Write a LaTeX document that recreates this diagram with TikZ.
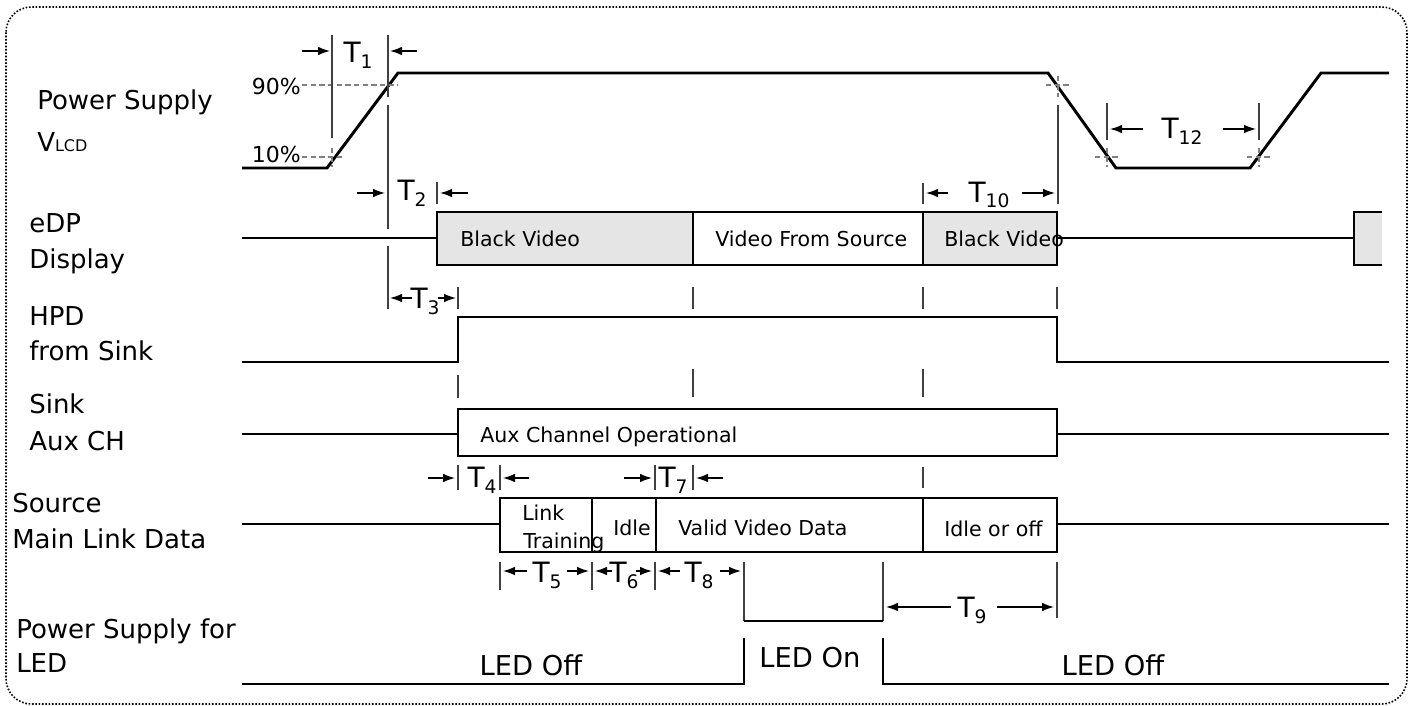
\documentclass[tikz,border=0pt]{standalone}
\usepackage{fontspec}
\setmainfont{DejaVu Sans}
\usepackage{tikz}
\usetikzlibrary{arrows.meta}
\newcommand{\Tdim}[1]{T\raisebox{-4.5pt}{\fontsize{14}{14}\selectfont #1}}
\tikzset{
  sigline/.style={
    draw=black,
    line width=2.2pt,
  },
  boxline/.style={
    draw=black,
    line width=2.2pt,
  },
  greybox/.style={
    boxline,
    fill=black!10,
  },
  edgeline/.style={
    draw=black!75,
    line width=0.8pt,
  },
  guideline/.style={
    draw=black!50,
    line width=0.8pt,
    dash pattern=on 4pt off 2.5pt,
  },
  dimarrow/.style={
    draw=black,
    line width=1.1pt,
    -{Latex[length=9pt,width=6.5pt]},
  },
  lbl/.style={
    anchor=base west,
    inner sep=0pt,
    font=\fontsize{19.5}{19.5}\selectfont
  },
  boxtext/.style={
    anchor=base west,
    inner sep=0pt,
    font=\fontsize{15.4}{15.4}\selectfont
  },
  tlabel/.style={
    anchor=base,
    inner sep=0pt,
    font=\fontsize{21}{21}\selectfont
  },
  pct/.style={
    anchor=base east,
    inner sep=0pt,
    font=\fontsize{16.5}{16.5}\selectfont
  },
  ledtext/.style={
    anchor=base,
    inner sep=0pt,
    font=\fontsize{20.5}{20.5}\selectfont
  },
  outerframe/.style={
    draw=black,
    line width=1.2pt,
    dash pattern=on 1.2pt off 1.3pt,
    rounded corners=19pt,
  },
}

\begin{document}
\begin{tikzpicture}[x=0.75pt, y=-0.75pt]
    \useasboundingbox (0,0) rectangle (1413,706);
    \draw [outerframe] (6,7) rectangle (1407,704);

    % signal names
    \node [lbl] (vlcdA) at (37,110) {Power Supply};
    \node [lbl] (vlcdB) at (37,152) {V{\fontsize{12}{12}\selectfont LCD}};
    \node [lbl] (edpA) at (29,233) {eDP};
    \node [lbl] (edpB) at (29,268) {Display};
    \node [lbl] (hpdA) at (29,325) {HPD};
    \node [lbl] (hpdB) at (29,360) {from Sink};
    \node [lbl] (auxA) at (29,413) {Sink};
    \node [lbl] (auxB) at (29,450) {Aux CH};
    \node [lbl] (srcA) at (12,512) {Source};
    \node [lbl] (srcB) at (12,548) {Main Link Data};
    \node [lbl] (ledA) at (16,638) {Power Supply for};
    \node [lbl] (ledB) at (16,672) {LED};

    % power supply VLCD
    \draw [sigline] (242,168) -- (327,168) -- (398,73) -- (1048,73) -- (1116,168) -- (1250,168) -- (1321,73) -- (1389,73);
    \draw [guideline] (302,85) -- (398,85);
    \draw [guideline] (302,157) -- (343,157);
    \draw [guideline] (332,148) -- (332,167);
    \draw [guideline] (1046,85) -- (1070,85) (1058,76) -- (1058,97);
    \foreach \x in {1107,1259}
      \draw [guideline] (\x-12,157) -- (\x+12,157) (\x,148) -- (\x,167);
    \node [pct] (p90) at (301,95) {90\%};
    \node [pct] (p10) at (301,163) {10\%};

    % T1, T2, T3
    \draw [edgeline] (332,35) -- (332,138);
    \draw [edgeline] (388,35) -- (388,97);
    \draw [dimarrow] (302,51) -- (330,51);
    \draw [dimarrow] (417,51) -- (390,51);
    \node [tlabel] (t1) at (358,63) {\Tdim{1}};
    \draw [edgeline] (388,105) -- (388,229) (388,246) -- (388,309);
    \draw [edgeline] (437,182) -- (437,204);
    \draw [dimarrow] (357,193) -- (385,193);
    \draw [dimarrow] (468,193) -- (440,193);
    \node [tlabel] (t2) at (412,200) {\Tdim{2}};
    \draw [edgeline] (458,287) -- (458,309);
    \draw [dimarrow] (412,298) -- (390,298);
    \draw [dimarrow] (438,298) -- (456,298);
    \node [tlabel] (t3) at (425,308) {\Tdim{3}};

    % T10, T12
    \draw [edgeline] (923,183) -- (923,204);
    \draw [edgeline] (1058,105) -- (1058,204);
    \draw [dimarrow] (948,193) -- (926,193);
    \draw [dimarrow] (1022,193) -- (1055,193);
    \node [tlabel] (t10) at (989,202) {\Tdim{10}};
    \draw [edgeline] (1107,103) -- (1107,140) (1259,103) -- (1259,140);
    \draw [dimarrow] (1143,129) -- (1110,129);
    \draw [dimarrow] (1223,129) -- (1256,129);
    \node [tlabel] (t12) at (1182,139) {\Tdim{12}};

    % eDP display
    \draw [sigline] (242,238) -- (437,238);
    \draw [greybox] (437,212) rectangle (693,265);
    \draw [boxline] (693,212) rectangle (923,265);
    \draw [greybox] (923,212) rectangle (1057,265);
    \draw [sigline] (1057,238) -- (1354,238);
    \fill [black!10] (1354,212) rectangle (1382,265);
    \draw [boxline] (1382,212) -- (1354,212) -- (1354,265) -- (1382,265);
    \node [boxtext] (bv1) at (460,246.5) {Black Video};
    \node [boxtext] (vfs) at (715,246.5) {Video From Source};
    \node [boxtext] (bv2) at (944,246.5) {Black Video};

    % HPD from sink
    \draw [edgeline] (693,287) -- (693,309) (923,287) -- (923,309) (1057,287) -- (1057,309);
    \draw [sigline] (242,362) -- (458,362) -- (458,317) -- (1057,317) -- (1057,362) -- (1389,362);
    \draw [edgeline] (458,375) -- (458,398) (693,369) -- (693,397) (923,369) -- (923,397);

    % sink aux channel
    \draw [sigline] (242,434) -- (458,434);
    \draw [boxline] (458,409) rectangle (1057,456);
    \draw [sigline] (1057,434) -- (1389,434);
    \node [boxtext] (auxop) at (480,442) {Aux Channel Operational};

    % T4, T7
    \draw [edgeline] (458,465) -- (458,490) (500,465) -- (500,490);
    \draw [dimarrow] (428,478) -- (455,478);
    \draw [dimarrow] (529,478) -- (503,478);
    \node [tlabel] (t4) at (482,487) {\Tdim{4}};
    \draw [edgeline] (655,465) -- (655,490) (693,465) -- (693,490);
    \draw [dimarrow] (624,478) -- (652,478);
    \draw [dimarrow] (723,478) -- (696,478);
    \node [tlabel] (t7) at (673,487) {\Tdim{7}};
    \draw [edgeline] (923,467) -- (923,488);

    % source main link
    \draw [sigline] (242,524) -- (500,524);
    \draw [boxline] (500,498) rectangle (1057,552);
    \draw [boxline] (592,498) -- (592,552) (656,498) -- (656,552) (923,498) -- (923,552);
    \draw [sigline] (1057,524) -- (1389,524);
    \node [boxtext] (lt1) at (522,520) {Link};
    \node [boxtext] (lt2) at (523,548) {Training};
    \node [boxtext] (idle) at (613,535) {Idle};
    \node [boxtext] (vvd) at (678,535) {Valid Video Data};
    \node [boxtext] (iof) at (944,536) {Idle or off};

    % T5, T6, T8, T9
    \draw [edgeline] (500,562) -- (500,590) (592,562) -- (592,590) (655,562) -- (655,590);
    \draw [edgeline] (744,562) -- (744,621) (883,562) -- (883,621) (1057,562) -- (1057,618);
    \draw [dimarrow] (527,571) -- (503,571);
    \draw [dimarrow] (567,571) -- (589,571);
    \node [tlabel] (t5) at (547,582) {\Tdim{5}};
    \draw [dimarrow] (612,571) -- (595,571);
    \draw [dimarrow] (636,571) -- (652,571);
    \node [tlabel] (t6) at (624,582) {\Tdim{6}};
    \draw [dimarrow] (680,571) -- (658,571);
    \draw [dimarrow] (720,571) -- (741,571);
    \node [tlabel] (t8) at (699,582) {\Tdim{8}};
    \draw [dimarrow] (951,607) -- (886,607);
    \draw [dimarrow] (997,607) -- (1054,607);
    \node [tlabel] (t9) at (972,617) {\Tdim{9}};

    % power supply for LED
    \draw [sigline] (242,684) -- (744,684) -- (744,638);
    \draw [sigline] (744,621) -- (883,621);
    \draw [sigline] (883,638) -- (883,684) -- (1389,684);
    \node [ledtext] (off1) at (531,675) {LED Off};
    \node [ledtext] (on) at (810,667) {LED On};
    \node [ledtext] (off2) at (1113,675) {LED Off};

  \end{tikzpicture}
\end{document}
